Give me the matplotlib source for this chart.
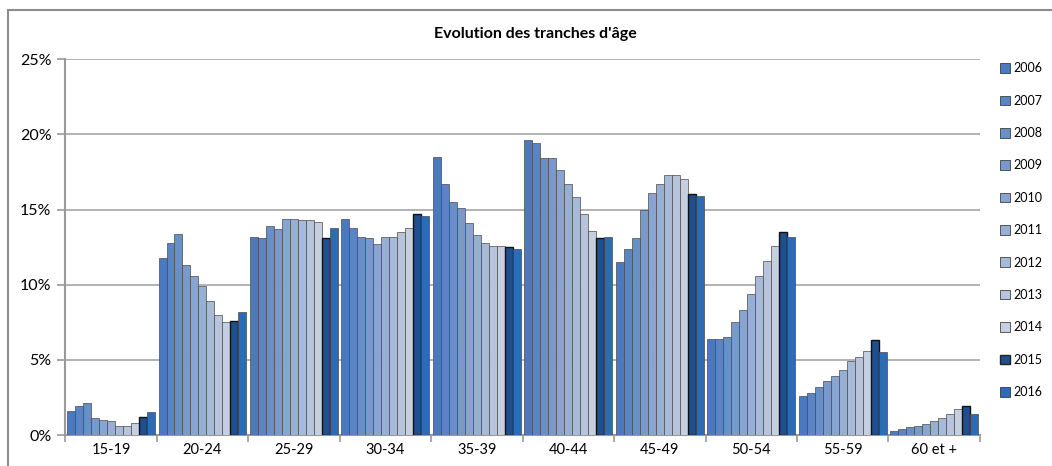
import matplotlib
matplotlib.use("Agg")
import matplotlib.pyplot as plt
import matplotlib.colors as mcolors
from matplotlib.patches import Rectangle
import numpy as np

plt.rcParams['font.family'] = ['Lato', 'DejaVu Sans']

# Data (share of workforce, %)
groups = ["15-19", "20-24", "25-29", "30-34", "35-39", "40-44", "45-49", "50-54", "55-59", "60 et +"]
years = ["2006", "2007", "2008", "2009", "2010", "2011", "2012", "2013", "2014", "2015", "2016"]

v2006 = [1.6, 11.8, 13.2, 14.4, 18.5, 19.6, 11.5, 6.4, 2.6, 0.3]
v2007 = [1.9, 12.8, 13.1, 13.8, 16.7, 19.4, 12.4, 6.4, 2.8, 0.4]
v2008 = [2.1, 13.4, 13.9, 13.2, 15.5, 18.4, 13.1, 6.5, 3.2, 0.5]
v2009 = [1.1, 11.3, 13.7, 13.1, 15.1, 18.4, 15.0, 7.5, 3.6, 0.6]
v2010 = [1.0, 10.6, 14.4, 12.7, 14.1, 17.6, 16.1, 8.3, 3.9, 0.7]
v2011 = [0.9, 9.9, 14.4, 13.2, 13.3, 16.7, 16.7, 9.4, 4.3, 0.9]
v2012 = [0.6, 8.9, 14.3, 13.2, 12.8, 15.8, 17.3, 10.6, 4.9, 1.1]
v2013 = [0.6, 8.0, 14.3, 13.5, 12.6, 14.7, 17.3, 11.6, 5.2, 1.4]
v2014 = [0.8, 7.5, 14.2, 13.8, 12.6, 13.6, 17.0, 12.6, 5.6, 1.7]
v2015 = [1.2, 7.6, 13.1, 14.7, 12.5, 13.1, 16.0, 13.5, 6.3, 1.9]
v2016 = [1.5, 8.2, 13.8, 14.6, 12.4, 13.2, 15.9, 13.2, 5.5, 1.4]

series = [v2006, v2007, v2008, v2009, v2010, v2011, v2012, v2013, v2014, v2015, v2016]

# colours: blue fading to pale grey-blue, then dark 2015 and blue 2016
c_start = np.array(mcolors.to_rgb('#4a79bf'))
c_end = np.array(mcolors.to_rgb('#c6cfe0'))
colors = [tuple(c_start + (c_end - c_start) * i / 8) for i in range(9)]
colors.append('#1f4f8c')
colors.append('#2c6cb4')

fig = plt.figure(figsize=(10.52, 4.66), dpi=100)
ax = fig.add_axes([0.062, 0.0665, 0.8695, 0.8065])

n = len(years)
x = np.arange(len(groups))
total_w = 0.96
w = total_w / n

for i, (yr, vals) in enumerate(zip(years, series)):
    pos = x - total_w / 2 + w * (i + 0.5)
    edge = '#111111' if yr == '2015' else '#4a4a4a'
    lw = 1.0 if yr == '2015' else 0.5
    ax.bar(pos, vals, width=w, color=colors[i], edgecolor=edge, linewidth=lw,
           label=yr, zorder=3)

ax.set_xlim(-0.5, len(groups) - 0.5)
ax.set_ylim(0, 25)
ax.set_yticks([0, 5, 10, 15, 20, 25])
ax.set_yticklabels(["0%", "5%", "10%", "15%", "20%", "25%"], fontsize=11.5)
ax.set_xticks(x)
ax.set_xticklabels(groups, fontsize=10.5)
ax.set_xticks(np.arange(len(groups) + 1) - 0.5, minor=True)
ax.tick_params(axis='x', which='major', length=0, pad=6)
ax.tick_params(axis='x', which='minor', length=5, color='#999999', width=1.2)
ax.tick_params(axis='y', length=6, color='#999999', width=1.2, pad=4)

ax.yaxis.grid(True, color='#a6a6a6', linewidth=1.2, zorder=0)
for s in ['top', 'right']:
    ax.spines[s].set_visible(False)
for s in ['left', 'bottom']:
    ax.spines[s].set_color('#999999')
    ax.spines[s].set_linewidth(1.5)

fig.text(0.509, 0.928, "Evolution des tranches d'âge", ha='center', va='center',
         fontsize=11.5, fontweight='bold')

leg = fig.legend(loc='upper left', bbox_to_anchor=(0.946, 0.877), frameon=False,
                 fontsize=9, labelspacing=1.63, handlelength=0.8, handleheight=0.8,
                 handletextpad=0.25, borderaxespad=0)
for h in leg.legend_handles:
    h.set_edgecolor('#222222')

# outer chart border (right edge lies outside the picture)
fig.patches.append(Rectangle((0.0076, -0.02), 1.05, 0.998, transform=fig.transFigure,
                             fill=False, edgecolor='#8c8c8c', linewidth=1.5))

fig.savefig("out.png", dpi=100)
